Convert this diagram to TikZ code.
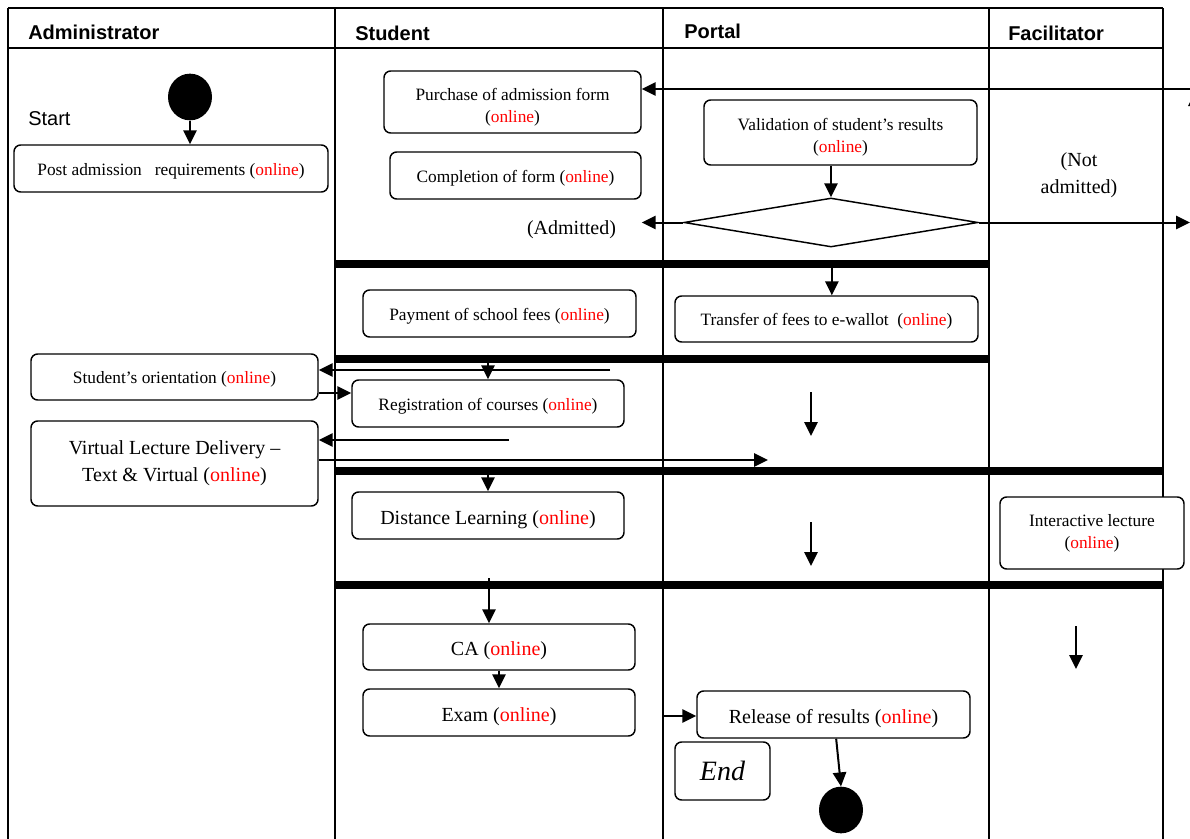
\documentclass[tikz,border=0pt]{standalone}
\usepackage{fontspec}
\setmainfont{Liberation Serif}
\newfontfamily\hfont{Liberation Sans}
\usetikzlibrary{arrows.meta,shapes.geometric}
\definecolor{onlred}{RGB}{255,0,0}
\newcommand{\onl}{(\textcolor{onlred}{online})}
\newcommand{\smtxt}{\fontsize{13}{16.5}\selectfont}
\newcommand{\lgtxt}{\fontsize{15}{20.5}\selectfont}
\tikzset{
  lane/.style={line width=1.2pt},
  syncbar/.style={fill=black, draw=none, inner sep=0pt, minimum height=5.5pt},
  act/.style={draw, line width=1.1pt, rounded corners=5pt, fill=white, align=center, inner sep=2pt},
  smact/.style={act, font=\smtxt},
  lgact/.style={act, font=\lgtxt},
  lowsm/.style={execute at begin node={\rule{0pt}{13pt}}},
  lowlg/.style={execute at begin node={\rule{0pt}{16.5pt}}},
  arr/.style={line width=1.5pt, -{Triangle[length=10.5pt,width=10pt]}},
  blackdot/.style={ellipse, fill=black, minimum width=33pt, minimum height=35pt, inner sep=0pt},
  hdr/.style={font=\hfont\bfseries\fontsize{15}{18}\selectfont, anchor=west, inner sep=0pt},
}
\begin{document}
\begin{tikzpicture}[x=0.75pt,y=-0.75pt]
\useasboundingbox (0,0) rectangle (1190,839);
% swimlane frame
\draw[lane] (8,8) -- (1163,8);
\draw[lane] (8,48) -- (1163,48);
\foreach \xx in {8,335,663,989,1163} \draw[lane] (\xx,8) -- (\xx,839);
% headers
\node[hdr] (hAdm) at (28,32) {Administrator};
\node[hdr] (hStu) at (355,33) {Student};
\node[hdr] (hPor) at (684,31) {Portal};
\node[hdr] (hFac) at (1008,33) {Facilitator};
\node[font=\hfont\fontsize{15}{18}\selectfont, anchor=west, inner sep=0pt] (lStart) at (28,119) {Start};
% sync bars
\node[syncbar, minimum width=490.5pt] (bar1) at (662,264) {};
\node[syncbar, minimum width=490.5pt] (bar2) at (662,359) {};
\node[syncbar, minimum width=621pt] (bar3) at (749,471) {};
\node[syncbar, minimum width=621pt] (bar4) at (749,585) {};
% activities
\node[blackdot] (startdot) at (190,97) {};
\node[smact, lowsm, minimum width=235.5pt, minimum height=35.25pt] (post) at (171,168.5) {Post admission \ \ requirements \onl};
\node[smact, minimum width=192.75pt, minimum height=46.5pt] (purch) at (512.5,102) {\rule{0pt}{17pt}Purchase of admission form\\ \onl};
\node[smact, lowsm, minimum width=188.25pt, minimum height=35.25pt] (compl) at (515.5,175.5) {Completion of form \onl};
\node[smact, minimum width=204.75pt, minimum height=48.75pt] (valid) at (840.5,132.5) {\rule{0pt}{15.75pt}Validation of student’s results\\ \onl};
\node[diamond, draw, line width=1.1pt, fill=white, inner sep=0pt, minimum width=220.5pt, minimum height=36.75pt] (dia) at (831,222.5) {};
\node[font=\lgtxt, inner sep=0pt] (lAdm) at (571.5,230) {(Admitted)};
\node[font=\lgtxt, align=center, inner sep=0pt] (lNot) at (1079,175) {(Not\\ admitted)};
\node[smact, lowsm, minimum width=204.75pt, minimum height=35.25pt] (pay) at (499.5,313.5) {Payment of school fees \onl};
\node[smact, lowsm, minimum width=227.25pt, minimum height=34.5pt] (trans) at (826.5,319) {Transfer of fees to e-wallot \ \onl};
\node[smact, lowsm, minimum width=215.25pt, minimum height=34.5pt] (orient) at (174.5,377) {Student’s orientation \onl};
\node[smact, lowsm, minimum width=204pt, minimum height=35.25pt] (reg) at (488,403.5) {Registration of courses \onl};
\node[lgact, minimum width=215.25pt, minimum height=63.75pt] (virt) at (174.5,463.5) {Virtual Lecture Delivery –\\ Text \& Virtual \onl};
\node[lgact, lowlg, minimum width=204pt, minimum height=35.25pt] (dist) at (488,515.5) {Distance Learning \onl};
\node[smact, minimum width=138pt, minimum height=54pt] (inter) at (1092,533) {Interactive lecture\\ \onl};
\node[lgact, lowlg, minimum width=204pt, minimum height=34.5pt] (ca) at (499,647) {CA \onl};
\node[lgact, lowlg, minimum width=204pt, minimum height=35.25pt] (exam) at (499,712.5) {Exam \onl};
\node[lgact, lowlg, minimum width=204.75pt, minimum height=35.25pt] (rel) at (833.5,714.5) {Release of results \onl};
\node[act, font=\fontsize{21}{24}\selectfont\itshape, minimum width=71.25pt, minimum height=43.5pt] (endbox) at (722.5,771) {End};
\node[blackdot] (enddot) at (841,810) {};
% connectors
\draw[arr] (startdot.south) -- (startdot.south |- post.north);
\coordinate (rin) at (1190,89);
\draw[arr] (rin) -- (rin -| purch.east);
\draw[arr] (valid.south -| dia.north) -- (dia.north);
\draw[arr] (dia.west) -- (dia.west -| compl.east);
\coordinate (nadm) at (1190,224);
\draw[arr] (dia.east) -- (dia.east -| nadm);
\draw[arr] ([xshift=4pt]bar1.center -| trans.north) -- ([xshift=4pt]trans.north);
\draw[arr] (bar2.center -| reg.north) -- (reg.north);
\coordinate (o1) at (610,370);
\draw[arr] (o1) -- (o1 -| orient.east);
\draw[arr] ([yshift=-12pt]orient.east) -- ([yshift=-12pt]orient.east -| reg.west);
\coordinate (p1a) at (811,392);
\coordinate (p1b) at (811,436);
\draw[arr] (p1a) -- (p1b);
\coordinate (v1) at (509,440);
\draw[arr] (v1) -- (v1 -| virt.east);
\coordinate (v2) at (768,460);
\draw[arr] (v2 -| virt.east) -- (v2);
\draw[arr] (bar3.center -| dist.north) -- (dist.north);
\coordinate (p2a) at (811,522);
\coordinate (p2b) at (811,566);
\draw[arr] (p2a) -- (p2b);
\coordinate (c0) at (489,578);
\draw[arr] (c0) -- (c0 |- ca.north);
\draw[arr] (ca.south) -- (exam.north);
\coordinate (f1a) at (1076,626);
\coordinate (f1b) at (1076,669);
\draw[arr] (f1a) -- (f1b);
\coordinate (e0) at (663,716);
\draw[arr] (e0) -- (e0 -| rel.west);
\draw[arr] ([xshift=2pt]rel.south) -- (enddot.north);
% arrow fragment at right edge
\begin{scope}
\clip (1160,0) rectangle (1190,839);
\coordinate (fra) at (1195,140);
\coordinate (frb) at (1195,92);
\draw[arr] (fra) -- (frb);
\end{scope}
\end{tikzpicture}
\end{document}
